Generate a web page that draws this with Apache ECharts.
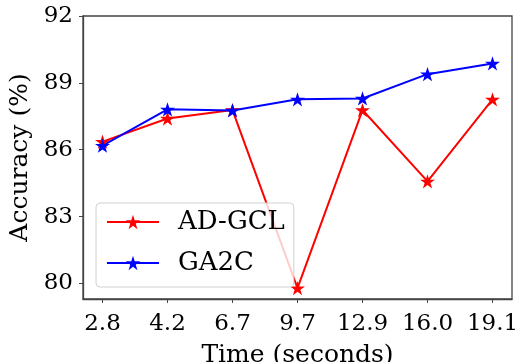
<!DOCTYPE html>
<html>
<head>
<meta charset="utf-8">
<script src="https://cdn.jsdelivr.net/npm/echarts@6/dist/echarts.min.js"></script>
<style>
html,body{margin:0;padding:0;background:#fff;}
#chart{width:519px;height:362px;}
</style>
</head>
<body>
<div id="chart"></div>
<script>
const categories = ['2.8', '4.2', '6.7', '9.7', '12.9', '16.0', '19.1'];
const adgcl = [86.36, 87.4, 87.78, 79.79, 87.78, 84.58, 88.26];
const ga2c = [86.18, 87.81, 87.76, 88.26, 88.30, 89.39, 89.87];
const yTicks = [80, 83, 86, 89, 92];
const seriesNames = ['AD-GCL', 'GA2C'];

const STAR = 'path://M50 0 L61.23 34.55 L97.55 34.55 L68.16 55.9 L79.39 90.45 L50 69.1 L20.61 90.45 L31.84 55.9 L2.45 34.55 L38.77 34.55 Z';
const FONT = 'DejaVu Serif';
const xIdx = categories.map((c, i) => i);

const chart = echarts.init(document.getElementById('chart'), null, {renderer: 'canvas'});
function mk(name, vals, color) {
  return {
    name: name,
    type: 'line',
    data: vals.map((v, i) => [i, v]),
    symbol: STAR,
    symbolSize: 15,
    symbolKeepAspect: true,
    lineStyle: {color: color, width: 2},
    itemStyle: {color: color},
    animation: false
  };
}
chart.setOption({
  animation: false,
  grid: {left: 83, right: 7, top: 16, bottom: 63, containLabel: false, outerBoundsMode: 'none',
         show: true, borderColor: '#444', borderWidth: 1.3, backgroundColor: 'transparent'},
  legend: {
    left: 96, top: 203,
    orient: 'vertical',
    data: seriesNames,
    itemWidth: 52, itemHeight: 18, itemGap: 15,
    padding: [6, 9, 11, 10],
    backgroundColor: 'rgba(255,255,255,0.8)',
    borderColor: '#d0d0d0', borderWidth: 1, borderRadius: 4,
    textStyle: {fontFamily: FONT, fontSize: 26, color: '#000', padding: [0, 0, 0, 14]}
  },
  xAxis: {
    type: 'value', min: -0.3, max: 6.3,
    name: 'Time (seconds)', nameLocation: 'middle', nameGap: 44,
    nameTextStyle: {fontFamily: FONT, fontSize: 25, color: '#000'},
    axisLine: {show: true, onZero: false, lineStyle: {color: '#444', width: 1.3}},
    axisTick: {show: true, customValues: xIdx, length: 4, lineStyle: {color: '#444'}},
    axisLabel: {customValues: xIdx, formatter: v => categories[Math.round(v)], fontFamily: FONT, fontSize: 23, color: '#000', margin: 14},
    splitLine: {show: false}
  },
  yAxis: {
    type: 'value', min: 79.3, max: 92,
    name: 'Accuracy (%)', nameLocation: 'middle', nameGap: 47,
    nameTextStyle: {fontFamily: FONT, fontSize: 25, color: '#000'},
    axisLine: {show: true, onZero: false, lineStyle: {color: '#444', width: 1.3}},
    axisTick: {show: true, customValues: yTicks, length: 4, lineStyle: {color: '#444'}},
    axisLabel: {customValues: yTicks, fontFamily: FONT, fontSize: 23, color: '#000', margin: 10},
    splitLine: {show: false}
  },
  series: [mk(seriesNames[0], adgcl, '#ff0000'), mk(seriesNames[1], ga2c, '#0000ff')]
});
</script>
</body>
</html>
